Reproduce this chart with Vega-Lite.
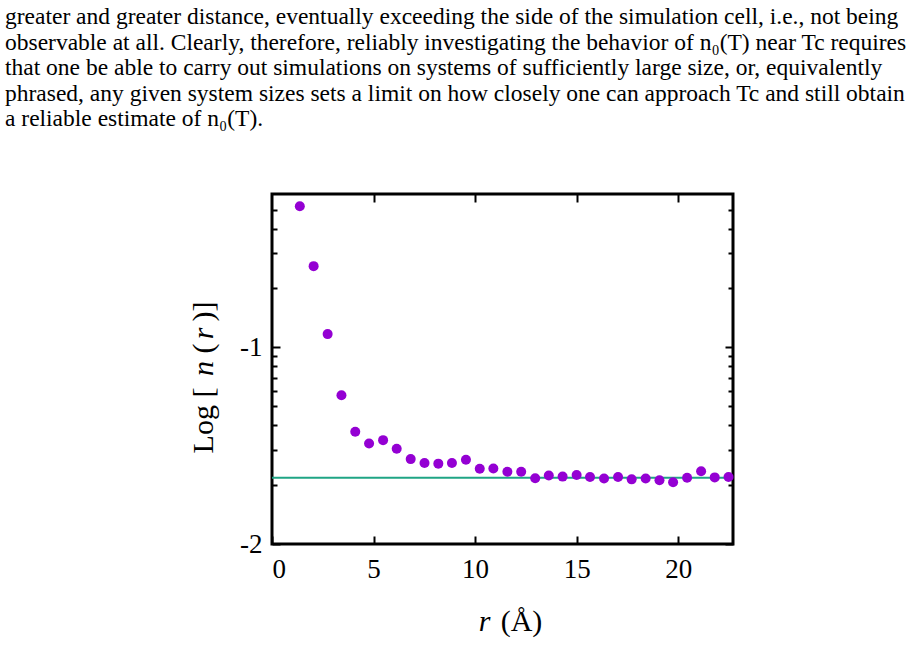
{
  "$schema": "https://vega.github.io/schema/vega-lite/v6.json",
  "width": 461,
  "height": 350,
  "autosize": {"type": "none"},
  "padding": {"left": 272, "top": 194, "right": 186, "bottom": 119},
  "background": "white",
  "title": {
    "text": [
      "greater and greater distance, eventually exceeding the side of the simulation cell, i.e., not being",
      "observable at all. Clearly, therefore, reliably investigating the behavior of n₀(T) near Tc requires",
      "that one be able to carry out simulations on systems of sufficiently large size, or, equivalently",
      "phrased, any given system sizes sets a limit on how closely one can approach Tc and still obtain",
      "a reliable estimate of n₀(T)."
    ],
    "orient": "top",
    "anchor": "start",
    "frame": "group",
    "dx": -267,
    "offset": 62,
    "font": "Liberation Serif",
    "fontSize": 23.5,
    "fontWeight": "normal",
    "lineHeight": 25.6,
    "color": "black"
  },
  "config": {
    "view": {"stroke": "black", "strokeWidth": 3},
    "axis": {
      "domain": false,
      "grid": false,
      "labelFont": "Liberation Serif",
      "titleFont": "Liberation Serif",
      "labelColor": "black",
      "titleColor": "black",
      "tickColor": "black",
      "titleFontWeight": "normal"
    }
  },
  "data": {
    "values": [
      {"r": 1.37, "n": 0.520},
      {"r": 2.05, "n": 0.258},
      {"r": 2.74, "n": 0.1165},
      {"r": 3.42, "n": 0.0570},
      {"r": 4.10, "n": 0.0372},
      {"r": 4.78, "n": 0.0324},
      {"r": 5.47, "n": 0.0337},
      {"r": 6.14, "n": 0.0305},
      {"r": 6.83, "n": 0.0270},
      {"r": 7.51, "n": 0.0258},
      {"r": 8.19, "n": 0.0256},
      {"r": 8.86, "n": 0.0258},
      {"r": 9.55, "n": 0.0268},
      {"r": 10.23, "n": 0.0241},
      {"r": 10.90, "n": 0.0242},
      {"r": 11.59, "n": 0.0233},
      {"r": 12.27, "n": 0.0233},
      {"r": 12.96, "n": 0.0216},
      {"r": 13.63, "n": 0.0223},
      {"r": 14.31, "n": 0.0220},
      {"r": 15.00, "n": 0.0224},
      {"r": 15.66, "n": 0.0219},
      {"r": 16.35, "n": 0.0215},
      {"r": 17.04, "n": 0.0219},
      {"r": 17.71, "n": 0.0213},
      {"r": 18.40, "n": 0.0215},
      {"r": 19.08, "n": 0.0211},
      {"r": 19.75, "n": 0.0206},
      {"r": 20.44, "n": 0.0217},
      {"r": 21.13, "n": 0.0234},
      {"r": 21.80, "n": 0.0218},
      {"r": 22.48, "n": 0.0219}
    ]
  },
  "resolve": {"axis": {"x": "independent", "y": "independent"}},
  "layer": [
    {
      "data": {"values": [{"level": 0.0217}]},
      "mark": {"type": "rule", "color": "#1fa585", "strokeWidth": 2},
      "encoding": {
        "y": {
          "field": "level",
          "type": "quantitative",
          "scale": {"type": "log", "domain": [0.01, 0.6], "nice": false},
          "axis": {"orient": "right", "values": [0.01, 0.1], "labels": false, "tickSize": -8, "tickWidth": 2, "title": null}
        }
      }
    },
    {
      "mark": {"type": "point", "filled": true, "color": "#9400D3", "size": 100, "opacity": 1},
      "encoding": {
        "x": {
          "field": "r",
          "type": "quantitative",
          "scale": {"domain": [0, 22.7], "nice": false, "zero": false},
          "axis": {
            "orient": "bottom",
            "values": [0, 5, 10, 15, 20],
            "tickSize": -8,
            "tickWidth": 2,
            "labelFont": "Liberation Serif",
            "labelFontSize": 27,
            "labelPadding": 20,
            "title": "r",
            "titleFont": "Liberation Serif",
            "titleFontStyle": "italic",
            "titleFontSize": 30,
            "titleAlign": "center",
            "titleBaseline": "alphabetic",
            "titleX": 212,
            "titleY": 86
          }
        },
        "y": {
          "field": "n",
          "type": "quantitative",
          "scale": {"type": "log", "domain": [0.01, 0.6], "nice": false},
          "axis": {
            "orient": "left",
            "values": [0.01, 0.1],
            "labelExpr": "datum.value < 0.05 ? '-2' : '-1'",
            "tickSize": -8,
            "tickWidth": 2,
            "labelFont": "Liberation Serif",
            "labelFontSize": 27,
            "labelPadding": 18,
            "title": "Log [",
            "titleFont": "Liberation Serif",
            "titleFontSize": 30,
            "titleAngle": -90,
            "titleAlign": "center",
            "titleBaseline": "alphabetic",
            "titleX": -60,
            "titleY": 226
          }
        }
      }
    },
    {
      "mark": {"type": "point", "opacity": 0},
      "encoding": {
        "x": {
          "field": "r",
          "type": "quantitative",
          "axis": {"orient": "top", "values": [5, 10, 15, 20], "labels": false, "tickSize": -8, "tickWidth": 2, "title": null}
        },
        "y": {
          "field": "n",
          "type": "quantitative",
          "axis": {
            "orient": "left",
            "values": [0.02, 0.03, 0.04, 0.05, 0.06, 0.07, 0.08, 0.09, 0.2, 0.3, 0.4, 0.5],
            "labels": false,
            "tickSize": -5,
            "tickWidth": 2,
            "title": null
          }
        }
      }
    },
    {
      "mark": {"type": "point", "opacity": 0},
      "encoding": {
        "x": {
          "field": "r",
          "type": "quantitative",
          "axis": {
            "orient": "bottom",
            "ticks": false,
            "labels": false,
            "title": "(Å)",
            "titleFont": "Liberation Serif",
            "titleFontSize": 30,
            "titleAlign": "center",
            "titleBaseline": "alphabetic",
            "titleX": 249,
            "titleY": 86
          }
        },
        "y": {
          "field": "n",
          "type": "quantitative",
          "axis": {
            "orient": "right",
            "values": [0.02, 0.03, 0.04, 0.05, 0.06, 0.07, 0.08, 0.09, 0.2, 0.3, 0.4, 0.5],
            "labels": false,
            "tickSize": -5,
            "tickWidth": 2,
            "title": null
          }
        }
      }
    },
    {
      "mark": {"type": "point", "opacity": 0},
      "encoding": {
        "x": {"field": "r", "type": "quantitative", "axis": null},
        "y": {
          "field": "n",
          "type": "quantitative",
          "axis": {
            "orient": "left", "ticks": false, "labels": false,
            "title": "n", "titleFont": "Liberation Serif", "titleFontStyle": "italic", "titleFontSize": 30,
            "titleAngle": -90, "titleAlign": "center", "titleBaseline": "alphabetic",
            "titleX": -60, "titleY": 174
          }
        }
      }
    },
    {
      "mark": {"type": "point", "opacity": 0},
      "encoding": {
        "x": {"field": "r", "type": "quantitative", "axis": null},
        "y": {
          "field": "n",
          "type": "quantitative",
          "axis": {
            "orient": "left", "ticks": false, "labels": false,
            "title": "(", "titleFont": "Liberation Serif", "titleFontSize": 30,
            "titleAngle": -90, "titleAlign": "center", "titleBaseline": "alphabetic",
            "titleX": -60, "titleY": 154
          }
        }
      }
    },
    {
      "mark": {"type": "point", "opacity": 0},
      "encoding": {
        "x": {"field": "r", "type": "quantitative", "axis": null},
        "y": {
          "field": "n",
          "type": "quantitative",
          "axis": {
            "orient": "left", "ticks": false, "labels": false,
            "title": "r", "titleFont": "Liberation Serif", "titleFontStyle": "italic", "titleFontSize": 30,
            "titleAngle": -90, "titleAlign": "center", "titleBaseline": "alphabetic",
            "titleX": -60, "titleY": 139
          }
        }
      }
    },
    {
      "mark": {"type": "point", "opacity": 0},
      "encoding": {
        "x": {"field": "r", "type": "quantitative", "axis": null},
        "y": {
          "field": "n",
          "type": "quantitative",
          "axis": {
            "orient": "left", "ticks": false, "labels": false,
            "title": ")]", "titleFont": "Liberation Serif", "titleFontSize": 30,
            "titleAngle": -90, "titleAlign": "center", "titleBaseline": "alphabetic",
            "titleX": -60, "titleY": 117
          }
        }
      }
    }
  ]
}
